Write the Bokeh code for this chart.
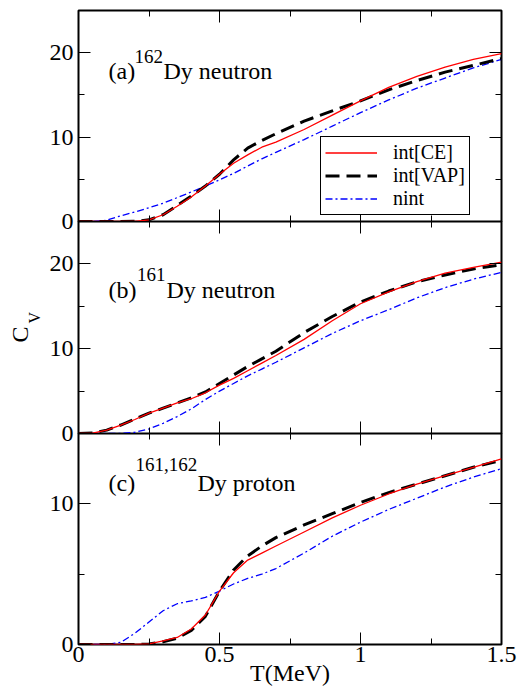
from bokeh.plotting import figure
from bokeh.models import (LinearAxis, SingleIntervalTicker, Range1d, Label, Legend,
                          LegendItem, CustomJSTickFormatter, CustomLabelingPolicy, Title)
from bokeh.layouts import column
from bokeh.embed import file_html
from bokeh.resources import INLINE

# ---------------- data ----------------
T = [0, 0.05, 0.1, 0.15, 0.2, 0.25, 0.3, 0.35, 0.4, 0.45, 0.5, 0.55, 0.6, 0.65,
     0.7, 0.8, 0.9, 1.0, 1.1, 1.2, 1.3, 1.4, 1.5]

# (a) 162Dy neutron
a_ce = [0, 0, 0, 0, 0.02, 0.2, 0.8, 1.8, 2.9, 4.2, 5.6, 6.9, 7.9, 8.8,
        9.4, 10.9, 12.6, 14.3, 15.9, 17.2, 18.3, 19.2, 19.9]
a_vap = [0, 0, 0, 0, 0.02, 0.2, 0.8, 1.9, 3.0, 4.2, 5.6, 7.3, 8.7, 9.6,
         10.4, 11.9, 13.1, 14.3, 15.6, 16.7, 17.7, 18.5, 19.3]
a_nint = [0, 0, 0.15, 0.68, 1.12, 1.64, 2.16, 2.83, 3.5, 4.2, 4.94, 5.7, 6.57, 7.43,
          8.2, 9.7, 11.3, 12.9, 14.4, 15.8, 17.0, 18.2, 19.2]

# (b) 161Dy neutron
b_ce = [0, 0.05, 0.4, 1.0, 1.65, 2.4, 3.0, 3.6, 4.1, 4.8, 5.7, 6.5, 7.4, 8.3,
        9.2, 11.1, 13.3, 15.3, 16.7, 17.9, 18.9, 19.6, 20.2]
b_vap = [0, 0.05, 0.4, 1.0, 1.7, 2.4, 3.0, 3.6, 4.2, 4.9, 5.9, 6.9, 7.9, 8.8,
         9.7, 11.9, 13.8, 15.5, 16.8, 17.9, 18.7, 19.4, 19.9]
b_nint = [0, 0, 0, 0, 0.15, 0.55, 1.2, 2.0, 2.9, 4.0, 5.0, 5.9, 6.8, 7.6,
          8.4, 10.1, 11.8, 13.3, 14.6, 16.0, 17.2, 18.2, 19.0]

# (c) 161,162Dy proton
c_ce = [0, 0, 0, 0, 0, 0.05, 0.25, 0.5, 1.1, 2.1, 3.8, 5.1, 6.0, 6.5,
        7.0, 8.0, 9.0, 9.9, 10.7, 11.4, 12.0, 12.6, 13.2]
c_vap = [0, 0, 0, 0, 0, 0.03, 0.2, 0.45, 1.0, 2.0, 3.8, 5.3, 6.3, 7.0,
         7.6, 8.5, 9.3, 10.1, 10.8, 11.4, 12.0, 12.6, 13.1]
c_nint = [0, 0, 0, 0.15, 0.8, 1.6, 2.4, 2.9, 3.1, 3.35, 3.8, 4.3, 4.7, 5.0,
          5.4, 6.5, 7.7, 8.7, 9.6, 10.4, 11.2, 11.9, 12.5]

y_max = [25, 25, 15]
series_labels = ["int[CE]", "int[VAP]", "nint"]
series_colors = ["#ff0000", "black", "#0000ff"]
panel_tags = ["(a)", "(b)", "(c)"]
panel_sups = ["162", "161", "161,162"]
panel_texts = ["Dy neutron", "Dy neutron", "Dy proton"]
x_title = "T(MeV)"
y_title = ("C", "V")

FONT = "Liberation Serif"
FRAME_W = 423
FRAME_HS = [211, 212, 211]
OVERLAP = 14  # room below a panel so its "0" label is not cut

no_labels = CustomLabelingPolicy(code="""
    const all = [...indices]
    for (const i of all) indices.unset(i)
    return indices
""")


def style_axis(ax, interval, minor, labels):
    ax.ticker = SingleIntervalTicker(interval=interval, num_minor_ticks=minor)
    ax.axis_line_color = None
    ax.major_tick_in = 12
    ax.major_tick_out = 0
    ax.minor_tick_in = 6
    ax.minor_tick_out = 0
    ax.major_tick_line_color = "black"
    ax.minor_tick_line_color = "black"
    ax.major_tick_line_width = 1
    ax.minor_tick_line_width = 1
    ax.major_label_text_font = FONT
    ax.major_label_text_color = "black"
    if labels:
        ax.major_label_text_font_size = "24px"
        ax.major_label_standoff = 4
    else:
        ax.major_label_text_font_size = "0px"
        ax.major_label_standoff = 0
        ax.major_label_policy = no_labels


def make_panel(i, top, bottom, xlabels, see_through):
    p = figure(frame_width=FRAME_W, frame_height=FRAME_HS[i],
               x_range=Range1d(0, 1.5), y_range=Range1d(0, y_max[i]),
               output_backend="svg", toolbar_location=None,
               min_border_left=78, min_border_right=20,
               min_border_top=top, min_border_bottom=bottom)
    p.grid.visible = False
    p.outline_line_color = "black"
    p.outline_line_width = 2
    p.background_fill_color = "white"
    p.background_fill_alpha = 1
    p.border_fill_color = "white"
    p.border_fill_alpha = 0 if see_through else 1
    xax = p.below[0]
    yax = p.left[0]
    style_axis(xax, 0.5, 2, xlabels)
    if xlabels:
        xax.formatter = CustomJSTickFormatter(code="return String(Math.round(tick*10)/10)")
        xax.major_label_standoff = 2
    style_axis(yax, 10, 2, True)
    yax.major_label_standoff = 5
    top_ax = LinearAxis()
    style_axis(top_ax, 0.5, 2, False)
    p.add_layout(top_ax, "above")
    right_ax = LinearAxis()
    style_axis(right_ax, 10, 2, False)
    p.add_layout(right_ax, "right")
    return p, xax, yax


pa, _, _ = make_panel(0, 10, OVERLAP, False, False)
pb, _, _ = make_panel(1, 0, OVERLAP, False, True)
pc, pc_x, _ = make_panel(2, 0, 50, True, True)
pa.margin = (0, 0, -OVERLAP, 0)
pb.margin = (0, 0, -OVERLAP, 0)
panels = [pa, pb, pc]
data = [(a_ce, a_vap, a_nint), (b_ce, b_vap, b_nint), (c_ce, c_vap, c_nint)]

# text positions (screen px from frame bottom-left)
tag_pos = [(30, 151), (30, 144), (30, 162)]
sup_pos = [(56, 165), (58.5, 159), (57, 180)]
txt_pos = [(85, 151), (88, 144), (119, 162)]

legend_renderers = None
for i, p in enumerate(panels):
    ce, vap, nint = data[i]
    r_nint = p.line(T, nint, line_color=series_colors[2], line_width=1.3, line_dash="7 3 2 3")
    r_vap = p.line(T, vap, line_color=series_colors[1], line_width=3, line_dash="14 7")
    r_ce = p.line(T, ce, line_color=series_colors[0], line_width=1.3)
    if i == 0:
        legend_renderers = (r_ce, r_vap, r_nint)
    p.add_layout(Label(x=tag_pos[i][0], y=tag_pos[i][1], x_units="screen", y_units="screen",
                       text=panel_tags[i], text_font=FONT, text_font_size="24px",
                       text_color="black", text_baseline="alphabetic", text_align="left"))
    p.add_layout(Label(x=sup_pos[i][0], y=sup_pos[i][1], x_units="screen", y_units="screen",
                       text=panel_sups[i], text_font=FONT, text_font_size="19px",
                       text_color="black", text_baseline="alphabetic", text_align="left"))
    p.add_layout(Label(x=txt_pos[i][0], y=txt_pos[i][1], x_units="screen", y_units="screen",
                       text=panel_texts[i], text_font=FONT, text_font_size="24px",
                       text_color="black", text_baseline="alphabetic", text_align="left"))

legend = Legend(items=[LegendItem(label=series_labels[k], renderers=[legend_renderers[k]])
                       for k in range(3)],
                location=(242, 6), margin=0, padding=4, spacing=0,
                glyph_width=52, glyph_height=21, label_height=21, label_standoff=16,
                label_text_font=FONT, label_text_font_size="20px", label_text_color="black",
                border_line_color="black", border_line_width=1, border_line_alpha=1,
                background_fill_color="white", background_fill_alpha=1)
pa.add_layout(legend)

# y title on middle panel: C with subscript V (two left-side titles)
t_v = Title(text=y_title[1], text_font=FONT, text_font_size="16px", text_font_style="normal",
            text_color="black", align="left", offset=110, standoff=7)
pb.add_layout(t_v, "left")
t_c = Title(text=y_title[0], text_font=FONT, text_font_size="24px", text_font_style="normal",
            text_color="black", align="left", offset=91, standoff=-24)
pb.add_layout(t_c, "left")

# x title on bottom panel
pc_x.axis_label = x_title
pc_x.axis_label_text_font = FONT
pc_x.axis_label_text_font_size = "24px"
pc_x.axis_label_text_font_style = "normal"
pc_x.axis_label_text_color = "black"
pc_x.axis_label_standoff = -5

layout = column(pa, pb, pc, spacing=0)
open("out.html", "w").write(file_html(layout, INLINE))
